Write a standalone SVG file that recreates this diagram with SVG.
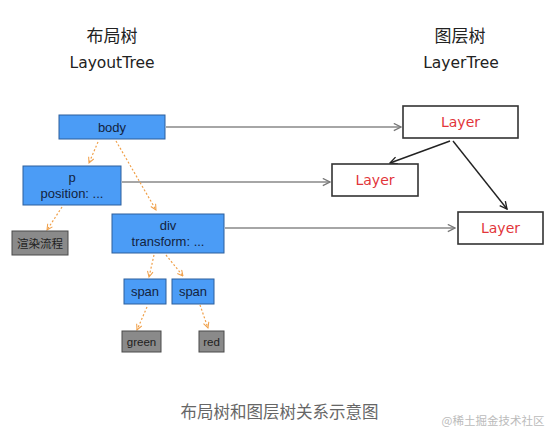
<svg xmlns="http://www.w3.org/2000/svg" width="559" height="439" viewBox="0 0 559 439">
<style>
.blue{fill:#4b9cf6;stroke:#2d5f9c;stroke-width:1}
.gray{fill:#8a8a8a;stroke:#4a4a4a;stroke-width:1}
.layer{fill:#fff;stroke:#333;stroke-width:1.6}
.bt{font-family:"Liberation Sans",Arial,sans-serif;font-size:13px;fill:#13233d;text-anchor:middle}
.gt{font-family:"Liberation Sans","Noto Sans CJK SC",sans-serif;font-size:11.5px;fill:#1e1e1e;text-anchor:middle}
.lt{font-family:"DejaVu Sans",sans-serif;font-size:14px;fill:#e2353a;text-anchor:middle}
.title{font-family:"Noto Sans CJK SC",sans-serif;font-size:17px;font-weight:normal;fill:#222;text-anchor:middle}
.sub{font-family:"DejaVu Sans",sans-serif;font-size:15.5px;fill:#222;text-anchor:middle}
.orange{stroke:#f0a04a;stroke-width:1.2;stroke-dasharray:2 2;fill:none}
.grayline{stroke:#888;stroke-width:1.3;fill:none}
.dark{stroke:#222;stroke-width:1.4;fill:none}
</style>
<defs>
<marker id="ao" viewBox="0 0 10 10" refX="9" refY="5" markerWidth="7" markerHeight="7" orient="auto" markerUnits="userSpaceOnUse"><path d="M1,1 L9,5 L1,9" fill="none" stroke="#f0a04a" stroke-width="1.5"/></marker>
<marker id="ag" viewBox="0 0 10 10" refX="9" refY="5" markerWidth="9" markerHeight="9" orient="auto" markerUnits="userSpaceOnUse"><path d="M1,1 L9,5 L1,9" fill="none" stroke="#777" stroke-width="1.4"/></marker>
<marker id="ad" viewBox="0 0 10 10" refX="9" refY="5" markerWidth="9" markerHeight="9" orient="auto" markerUnits="userSpaceOnUse"><path d="M1,1 L9,5 L1,9" fill="none" stroke="#222" stroke-width="1.5"/></marker>
</defs>
<rect width="559" height="439" fill="#fff"/>
<g id="titles">
<text class="title" x="112" y="42">布局树</text>
<text class="sub" x="112" y="68">LayoutTree</text>
<text class="title" x="460" y="42">图层树</text>
<text class="sub" x="461" y="68">LayerTree</text>
</g>
<g id="connectors">
<line class="grayline" x1="166" y1="127" x2="401" y2="127" marker-end="url(#ag)"/>
<line class="grayline" x1="122" y1="182" x2="330" y2="182" marker-end="url(#ag)"/>
<line class="grayline" x1="225" y1="228" x2="455" y2="228" marker-end="url(#ag)"/>
<line class="dark" x1="450" y1="141" x2="390" y2="163" marker-end="url(#ad)"/>
<line class="dark" x1="453" y1="141" x2="507" y2="209" marker-end="url(#ad)"/>
<line class="orange" x1="98" y1="142" x2="89" y2="163" marker-end="url(#ao)"/>
<line class="orange" x1="116" y1="141" x2="156" y2="210" marker-end="url(#ao)"/>
<line class="orange" x1="62" y1="207" x2="47" y2="230" marker-end="url(#ao)"/>
<line class="orange" x1="154" y1="255" x2="149" y2="277" marker-end="url(#ao)"/>
<line class="orange" x1="166" y1="255" x2="183" y2="276" marker-end="url(#ao)"/>
<line class="orange" x1="147" y1="307" x2="137" y2="330" marker-end="url(#ao)"/>
<line class="orange" x1="200" y1="305" x2="208" y2="328" marker-end="url(#ao)"/>
</g>
<g id="body"><rect class="blue" x="59" y="115" width="106" height="24"/><text class="bt" x="112" y="132">body</text></g>
<g id="p"><rect class="blue" x="23" y="166" width="98" height="39"/><text class="bt" x="72" y="182">p</text><text class="bt" x="72" y="198">position: ...</text></g>
<g id="div"><rect class="blue" x="112" y="214" width="112" height="39"/><text class="bt" x="168" y="230">div</text><text class="bt" x="168" y="246">transform: ...</text></g>
<g id="render"><rect class="gray" x="12" y="231" width="56" height="24"/><text class="gt" x="40" y="247.5">渲染流程</text></g>
<g id="span1"><rect class="blue" x="124" y="279" width="42" height="25"/><text class="bt" x="145" y="296">span</text></g>
<g id="span2"><rect class="blue" x="172" y="279" width="42" height="25"/><text class="bt" x="193" y="296">span</text></g>
<g id="green"><rect class="gray" x="122" y="331" width="39" height="21"/><text class="gt" x="141.5" y="346">green</text></g>
<g id="red"><rect class="gray" x="199" y="331" width="25" height="21"/><text class="gt" x="211.5" y="346">red</text></g>
<g id="layer1"><rect class="layer" x="403" y="106" width="115" height="32"/><text class="lt" x="460.5" y="127">Layer</text></g>
<g id="layer2"><rect class="layer" x="332" y="164" width="86" height="32"/><text class="lt" x="375" y="185">Layer</text></g>
<g id="layer3"><rect class="layer" x="458" y="212" width="85" height="32"/><text class="lt" x="500.5" y="233">Layer</text></g>
<g id="caption">
<text x="279.5" y="418" font-family="Noto Sans CJK SC,sans-serif" font-size="16.5" fill="#666" text-anchor="middle">布局树和图层树关系示意图</text>
<text x="493" y="425" font-family="Noto Sans CJK SC,sans-serif" font-size="11.5" fill="#bbb" text-anchor="middle">@稀土掘金技术社区</text>
</g>
</svg>
